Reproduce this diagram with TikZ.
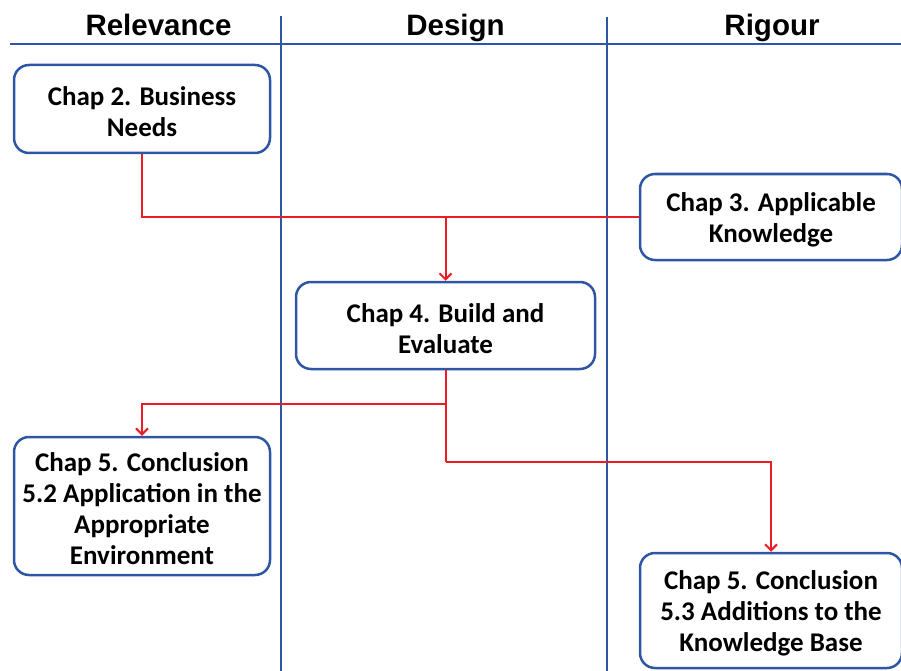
\documentclass[tikz,border=0pt]{standalone}
\usepackage{fontspec}
\setmainfont{Carlito}
\newfontfamily\headfont{Liberation Sans}
\usetikzlibrary{arrows.meta}
\definecolor{laneblue}{RGB}{47,85,165}
\definecolor{flowred}{RGB}{237,28,36}
\newcommand\tstrut{\rule{0pt}{25pt}}
\tikzset{
  lane/.style={draw=laneblue, line width=2pt},
  head/.style={font=\headfont\bfseries\fontsize{29.5}{32}\selectfont, anchor=base, inner sep=0pt},
  chapbox/.style={draw=laneblue, line width=2.5pt, fill=white, rounded corners=15pt,
    align=center, font=\bfseries\fontsize{27}{31}\selectfont, inner sep=0pt},
  flow/.style={draw=flowred, line width=2pt},
  flowarrow/.style={flow, -{Straight Barb[length=6pt,width=12pt,line width=2pt]}}
}
\begin{document}
\begin{tikzpicture}[x=1pt,y=-1pt]
\useasboundingbox (0,0) rectangle (901,671);
% lanes
\draw[lane] (10,44) -- (901,44);
\draw[lane] (281,16) -- (281,671);
\draw[lane] (607,17) -- (607,671);
\node[head] (hrel) at (158.5,36) {Relevance};
\node[head] (hdes) at (455.5,36) {Design};
\node[head] (hrig) at (772,36) {Rigour};
% boxes
\node[chapbox, minimum width=256pt, minimum height=88pt] (b1) at (142,109) {\tstrut Chap 2. Business\\Needs};
\node[chapbox, minimum width=262pt, minimum height=86pt] (b2) at (771,217) {\tstrut Chap 3. Applicable\\Knowledge};
\node[chapbox, minimum width=299pt, minimum height=87pt] (b3) at (445.5,325.5) {\tstrut Chap 4. Build and\\Evaluate};
\node[chapbox, minimum width=256pt, minimum height=138pt] (b4) at (142,506) {\tstrut Chap 5. Conclusion\\5.2 Application in the\\Appropriate\\Environment};
\node[chapbox, minimum width=262pt, minimum height=115pt] (b5) at (771,610.5) {\tstrut Chap 5. Conclusion\\5.3 Additions to the\\Knowledge Base};
% connectors
\coordinate (j1) at (b3.north |- b2.west);
\coordinate (j2) at ([yshift=-34pt]b3.south);
\coordinate (j3) at ([yshift=-92pt]b3.south);
\draw[flow] (b1.south) |- (b2.west);
\draw[flowarrow] (j1) -- (b3.north);
\draw[flow] (b3.south) -- (j3);
\draw[flowarrow] (j2) -| (b4.north);
\draw[flowarrow] (j3) -| (b5.north);
\end{tikzpicture}
\end{document}
